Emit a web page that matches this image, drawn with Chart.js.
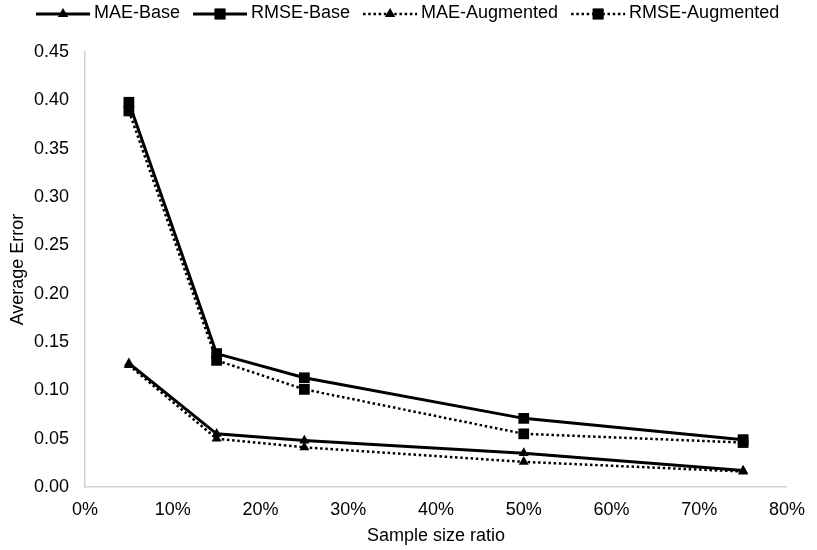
<!DOCTYPE html>
<html>
<head>
<meta charset="utf-8">
<title>Average Error vs Sample size ratio</title>
<script src="https://cdn.jsdelivr.net/npm/chart.js@4/dist/chart.umd.min.js"></script>
<style>
  html, body { margin: 0; padding: 0; background: #fff; }
  #wrap { width: 817px; height: 550px; }
</style>
</head>
<body>
<div id="wrap"><canvas id="chart"></canvas></div>
<script>
// sample size ratio (%) on the x axis
var ratios = [5, 15, 25, 50, 75];

var maeBase = [0.128, 0.055, 0.048, 0.035, 0.017];
var rmseBase = [0.398, 0.138, 0.113, 0.071, 0.049];
var maeAugmented = [0.126, 0.050, 0.041, 0.026, 0.016];
var rmseAugmented = [0.389, 0.131, 0.101, 0.055, 0.046];

var seriesNames = ["MAE-Base", "RMSE-Base", "MAE-Augmented", "RMSE-Augmented"];

var FONT = "'Liberation Sans', Arial, sans-serif";
var DOTS = [2.5, 2.7];

function toPoints(ys) {
	return ys.map(function(y, i) { return {x: ratios[i], y: y}; });
}

function series(name, ys, marker, dotted) {
	return {
		label: name,
		data: toPoints(ys),
		borderColor: "#000",
		backgroundColor: "#000",
		borderWidth: dotted ? 2.5 : 3,
		borderDash: dotted ? DOTS : [],
		pointStyle: marker,
		pointRadius: marker === "rect" ? 7.6 : 5.8,
		pointBorderWidth: 0,
		pointBackgroundColor: "#000",
		tension: 0,
		fill: false
	};
}

// legend drawn by hand so it sits where the original one does
var topLegend = {
	id: "topLegend",
	afterDraw: function(chart) {
		var ctx = chart.ctx;
		var x = 36, y = 14, lineLen = 54;
		ctx.save();
		ctx.font = "18px " + FONT;
		ctx.textBaseline = "middle";
		chart.data.datasets.forEach(function(ds) {
			ctx.strokeStyle = "#000";
			ctx.lineWidth = ds.borderWidth;
			ctx.setLineDash(ds.borderDash);
			ctx.beginPath();
			ctx.moveTo(x, y);
			ctx.lineTo(x + lineLen, y);
			ctx.stroke();
			ctx.setLineDash([]);
			ctx.fillStyle = "#000";
			Chart.helpers.drawPoint(ctx, {pointStyle: ds.pointStyle, radius: ds.pointRadius, borderWidth: 0}, x + lineLen / 2, y);
			ctx.fill();
			ctx.fillStyle = "#000";
			ctx.fillText(ds.label, x + lineLen + 4, y - 1);
			x += lineLen + 4 + ctx.measureText(ds.label).width + 13;
		});
		ctx.restore();
	}
};

new Chart(document.getElementById("chart"), {
	type: "line",
	data: {
		datasets: [
			series(seriesNames[0], maeBase, "triangle", false),
			series(seriesNames[1], rmseBase, "rect", false),
			series(seriesNames[2], maeAugmented, "triangle", true),
			series(seriesNames[3], rmseAugmented, "rect", true)
		]
	},
	options: {
		responsive: true,
		maintainAspectRatio: false,
		animation: false,
		layout: { padding: { top: 52, right: 22, bottom: 0, left: 0 } },
		plugins: {
			legend: { display: false },
			tooltip: { enabled: false }
		},
		scales: {
			x: {
				type: "linear",
				min: 0,
				max: 80,
				grid: { display: false, drawTicks: false },
				border: { display: true, color: "#d0d0d0", width: 1.5 },
				ticks: {
					stepSize: 10,
					padding: 12,
					color: "#000",
					font: { family: FONT, size: 18 },
					callback: function(v) { return v + "%"; }
				},
				title: {
					display: true,
					text: "Sample size ratio",
					color: "#000",
					font: { family: FONT, size: 18 },
					padding: { top: 0, bottom: 3 }
				},
				afterFit: function(s) { s.height = 63; }
			},
			y: {
				min: 0,
				max: 0.45,
				grid: { display: false, drawTicks: false },
				border: { display: true, color: "#d0d0d0", width: 1.5 },
				ticks: {
					stepSize: 0.05,
					padding: 16,
					color: "#000",
					font: { family: FONT, size: 18 },
					callback: function(v) { return v.toFixed(2); }
				},
				title: {
					display: true,
					text: "Average Error",
					color: "#000",
					font: { family: FONT, size: 18 },
					padding: { top: 7, bottom: 0 }
				},
				afterFit: function(s) { s.width = 85; }
			}
		}
	},
	plugins: [topLegend]
});
</script>
</body>
</html>
